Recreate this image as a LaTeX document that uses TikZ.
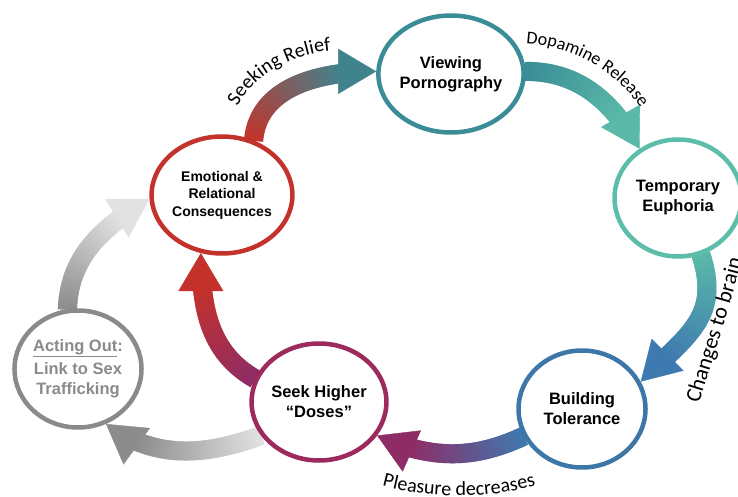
\documentclass[tikz,border=0pt]{standalone}
\usepackage{fontspec}
\usepackage{tikz}
\usetikzlibrary{shapes.geometric,arrows.meta,decorations.markings,decorations.text}
\newfontfamily\stagefont{Liberation Sans}
\newfontfamily\arcfont{Carlito}

\definecolor{viewteal}{HTML}{3A8D96}
\definecolor{eupaqua}{HTML}{5CBEAA}
\definecolor{tolblue}{HTML}{3D77A8}
\definecolor{seekplum}{HTML}{9C2A5C}
\definecolor{emored}{HTML}{C4332B}
\definecolor{actgray}{HTML}{8A8A8A}
\definecolor{flowteal}{HTML}{41838D}
\definecolor{flowaqua}{HTML}{5AB9A8}
\definecolor{flowblue}{HTML}{3E79B0}
\definecolor{flowplum}{HTML}{8E2C66}
\definecolor{flowred}{HTML}{C4312B}
\definecolor{flowgray}{HTML}{8C8C8C}
\definecolor{flowlight}{HTML}{E2E2E2}

\pgfdeclarelayer{bg}
\pgfsetlayers{bg,main}

\tikzset{
  flow/.style 2 args={draw=#2, line width=0.4pt,
    -{Triangle[width=45pt,length=38pt]},
    postaction={decorate, decoration={markings,
      mark=between positions 0 and -36pt step 0.8pt with {%
        \pgfmathtruncatemacro\flowpct{min(100,100*\pgfkeysvalueof{/pgf/decoration/mark info/distance from start}/(\pgfdecoratedpathlength-36))}%
        \fill[#2!\flowpct!#1] (-0.7pt,-9.5pt) rectangle (0.7pt,9.5pt);}}}},
  arclabel/.style 2 args={decorate, decoration={text along path, text align=center,
    text={|\arcfont\fontsize{#1}{#1}\selectfont|#2}}}
}

\begin{document}
\begin{tikzpicture}[x=1pt, y=1pt,
  stage/.style={ellipse, draw=#1, line width=4.5pt, fill=white,
    minimum width=127pt, minimum height=117pt, inner sep=0pt, align=center,
    font=\stagefont\bfseries\fontsize{16.5}{20}\selectfont}]
	\useasboundingbox (0,0) rectangle (738,-497);
	%\draw [help lines, step=50] (0,0) grid (738,-497);
	\node [stage=viewteal] (view) at (451,-74) {Viewing\\Pornography};
	\node [stage=eupaqua] (eup) at (678,-198) {Temporary\\Euphoria};
	\node [stage=tolblue] (tol) at (582,-409) {Building\\Tolerance};
	\node [stage=seekplum] (seek) at (319,-402) {Seek Higher\\“Doses”};
	\node [stage=emored, font=\stagefont\bfseries\fontsize{14}{17.5}\selectfont] (emo) at (222,-195)
	  {Emotional \&\\Relational\\Consequences};
	\node [stage=actgray, text=actgray] (act) at (78,-369)
	  {\underline{Acting Out}:\\[3pt]Link to Sex\\Trafficking};

	\begin{pgfonlayer}{bg}
	\draw [flow={emored}{flowteal}] (emo.60) to[out=85, in=180] (view.178);
	\draw [flow={viewteal}{flowaqua}] (view.2) to[out=0, in=120] (eup.128);
	\draw [flow={flowaqua}{flowblue}] (eup.-68) to[out=-72, in=45, looseness=1.2] (tol.25);
	\draw [flow={flowblue}{flowplum}] (tol.205) to[out=205, in=-24] (seek.-30);
	\draw [flow={flowplum}{flowred}] (seek.160) to[out=150, in=-90] (emo.-110);
	\draw [flow={flowlight}{flowgray}] (seek.210) to[out=200, in=-36] (act.-63);
	\draw [flow={flowgray}{flowlight}] (act.100) to[out=88, in=211] (emo.183);
	\end{pgfonlayer}

	\path [arclabel={20}{Seeking Relief}] (345,-140) ++(163:116 and 90)
	  arc [start angle=163, end angle=93, x radius=116, y radius=90];
	\path [arclabel={18}{Dopamine Release}] (517,-193) ++(97:150)
	  arc [start angle=97, end angle=24, radius=150];
	\path [decorate, decoration={text along path,
	  text={|\arcfont\fontsize{22}{22}\selectfont|Changes to brain}}]
	  (699,-404) .. controls (717,-345) and (734,-298) .. (752,-215);
	\path [arclabel={20}{Pleasure decreases}] (376,-484) .. controls (425,-499) and (490,-500) .. (542,-484);
\end{tikzpicture}
\end{document}
